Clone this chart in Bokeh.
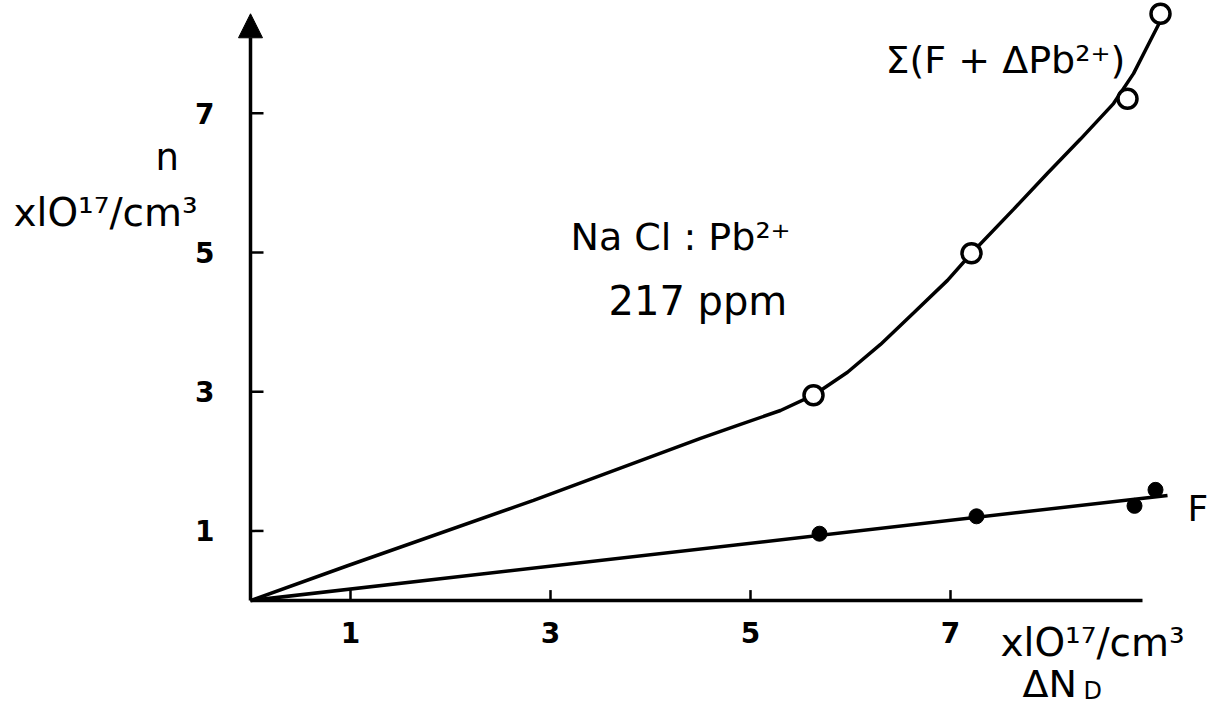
from bokeh.plotting import figure
from bokeh.models import Range1d, Arrow, NormalHead
from bokeh.core.properties import value
from bokeh.embed import file_html
from bokeh.resources import INLINE

# ---- data (x, n in units of 10^17 / cm^3) ----
sum_x = [5.63, 7.21, 8.77, 9.10]          # open circles: Σ(F + ΔPb²⁺)
sum_y = [2.95, 4.99, 7.21, 8.43]
f_x = [5.69, 7.26, 8.84, 9.05]            # filled dots: F centres
f_y = [0.96, 1.21, 1.36, 1.59]

# hand-drawn smooth curve through the Σ points
sum_curve_x = [0.0, 0.97, 2.83, 4.50, 4.90, 5.30, 5.63, 5.97, 6.30, 6.63, 6.97,
               7.21, 7.63, 7.97, 8.30, 8.63, 8.83, 9.00, 9.10]
sum_curve_y = [0.0, 0.50, 1.44, 2.33, 2.53, 2.73, 2.95, 3.28, 3.68, 4.13, 4.60,
               4.99, 5.62, 6.14, 6.63, 7.14, 7.57, 8.05, 8.33]

# straight fitted line through the F points
f_line_x = [0.0, 9.17]
f_line_y = [0.0, 1.51]

x_ticks = [1, 3, 5, 7]
x_tick_labels = ["1", "3", "5", "7"]
y_ticks = [1, 3, 5, 7]
y_tick_labels = ["1", "3", "5", "7"]

x_axis_end = 8.92
y_axis_end = 8.43

FONT = value("DejaVu Sans")

p = figure(width=1212, height=710, output_backend="svg", toolbar_location=None,
           x_range=Range1d(-2.50, 9.62), y_range=Range1d(-1.580, 8.621),
           min_border=0, min_border_left=0, min_border_right=0,
           min_border_top=0, min_border_bottom=0)
p.xaxis.visible = False
p.yaxis.visible = False
p.xgrid.visible = False
p.ygrid.visible = False
p.outline_line_color = None
p.background_fill_color = "white"
p.border_fill_color = "white"

# ---- axes drawn from the data scales ----
p.segment(x0=[0], y0=[0], x1=[x_axis_end], y1=[0], line_color="black", line_width=3.5)
p.add_layout(Arrow(end=NormalHead(size=24, fill_color="black", line_color="black", line_width=1),
                   x_start=0, y_start=0, x_end=0, y_end=y_axis_end,
                   line_color="black", line_width=3.5))
# tick marks (inward)
p.segment(x0=x_ticks, y0=[0] * len(x_ticks), x1=x_ticks, y1=[0.15] * len(x_ticks),
          line_color="black", line_width=2.5)
p.segment(x0=[0] * len(y_ticks), y0=y_ticks, x1=[0.13] * len(y_ticks), y1=y_ticks,
          line_color="black", line_width=2.5)
# tick labels
p.text(x=x_ticks, y=[-0.31] * len(x_ticks), text=x_tick_labels, text_font=FONT,
       text_font_size="28px", text_font_style="bold", text_align="center",
       text_baseline="top", text_color="black")
p.text(x=[-0.36] * len(y_ticks), y=y_ticks, text=y_tick_labels, text_font=FONT,
       text_font_size="28px", text_font_style="bold", text_align="right",
       text_baseline="middle", text_color="black")

# ---- curves and points ----
p.line(sum_curve_x, sum_curve_y, line_color="black", line_width=3.5)
p.line(f_line_x, f_line_y, line_color="black", line_width=3.5)
p.scatter(sum_x, sum_y, marker="circle", size=19, fill_color="white",
          line_color="black", line_width=3.5)
p.scatter(f_x, f_y, marker="circle", size=15, fill_color="black",
          line_color="black")

# ---- texts ----
def txt(x, y, s, size="35px", align="left", baseline="alphabetic"):
    p.text(x=[x], y=[y], text=[s], text_font=FONT, text_font_size=size,
           text_align=align, text_baseline=baseline, text_color="black")

txt(-0.95, 6.37, "n", size="37px")
txt(-2.37, 5.58, "xlO¹⁷/cm³", size="39px")
txt(3.20, 5.22, "Na Cl : Pb²⁺", size="38px")
txt(3.58, 4.31, "217 ppm", size="40px")
txt(6.35, 7.76, "Σ(F + ΔPb²⁺)", size="38px")
txt(9.37, 1.32, "F", size="36px")
txt(7.50, -0.60, "xlO¹⁷/cm³", size="39px")
txt(7.72, -1.20, "ΔN", size="38px")
txt(8.33, -1.30, "D", size="24px")

open("out.html", "w").write(file_html(p, INLINE))
